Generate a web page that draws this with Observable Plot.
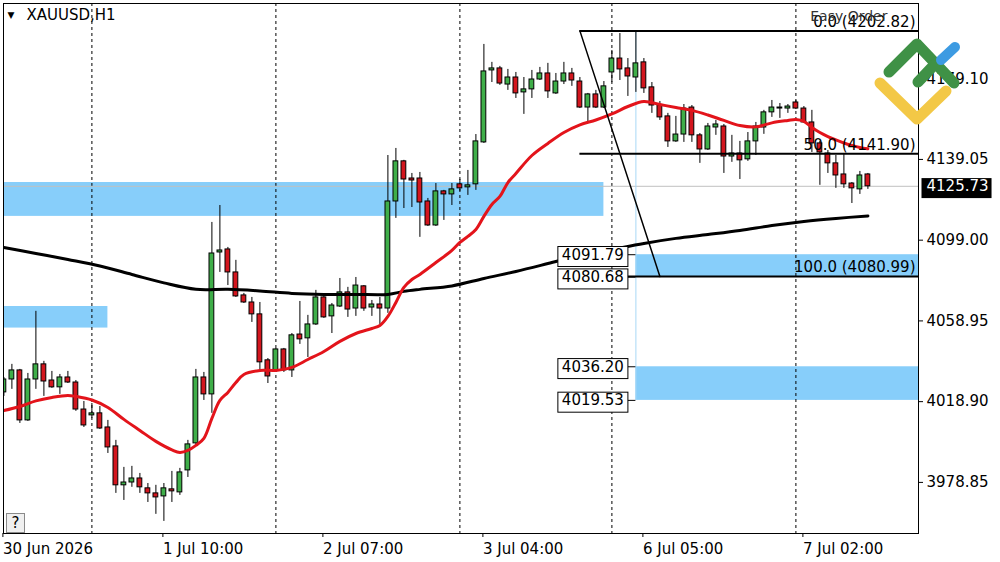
<!DOCTYPE html>
<html><head><meta charset="utf-8">
<script src="https://cdn.jsdelivr.net/npm/d3@7"></script>
<script src="https://cdn.jsdelivr.net/npm/@observablehq/plot@0.6"></script>
<style>
body{margin:0;background:#fff;}
#wrap{position:relative;width:1000px;height:562px;overflow:hidden;font-family:"DejaVu Sans",sans-serif;}
#wrap svg{display:block}
.help{position:absolute;left:6px;top:513px;width:17px;height:18px;border:1px solid #8a8a8a;background:#f0f0f0;font:15px "DejaVu Sans";text-align:center;line-height:19px;color:#000;}
.logo{position:absolute;left:0;top:0;pointer-events:none}
</style></head><body><div id="wrap"></div>
<script>
// ---- data (XAUUSD H1 candles, index 0 = 30 Jun 12:00) ----
const barOpen = [4023.5,4029.9,4034.4,4009.6,4029.9,4037.4,4029.4,4026.0,4030.9,4028.4,4015.0,4012.1,4013.1,4006.1,3996.7,3977.4,3978.8,3980.8,3975.9,3973.4,3971.9,3975.4,3973.9,3984.8,3998.2,4030.9,4022.5,4092.9,4094.4,4083.0,4071.6,4068.1,4062.2,4039.4,4034.4,4044.8,4034.4,4052.2,4050.3,4057.2,4070.6,4061.2,4066.1,4073.1,4065.1,4076.1,4065.6,4067.1,4065.1,4118.2,4138.1,4129.6,4129.6,4118.2,4106.3,4123.2,4121.7,4126.7,4125.2,4126.7,4147.5,4183.2,4184.2,4176.2,4179.7,4172.3,4173.8,4178.7,4181.7,4171.8,4177.7,4181.7,4177.7,4164.8,4171.3,4164.8,4182.2,4189.1,4184.2,4179.7,4187.2,4174.8,4165.8,4160.4,4148.0,4151.4,4164.8,4151.0,4144.0,4154.9,4155.4,4140.5,4142.0,4139.1,4148.0,4154.9,4162.4,4164.3,4164.3,4167.3,4164.3,4157.4,4147.0,4142.0,4137.1,4131.6,4127.1,4124.2,4131.6];
const barHigh = [4030.9,4037.4,4034.9,4032.9,4063.7,4038.9,4033.9,4032.4,4033.9,4029.4,4019.0,4018.0,4016.5,4009.6,3999.7,3986.3,3986.8,3983.3,3978.3,3977.4,3978.3,3984.3,3985.8,3999.7,4034.9,4033.4,4107.8,4116.2,4095.4,4089.0,4072.6,4070.6,4068.1,4040.3,4045.3,4045.3,4052.7,4068.6,4061.7,4074.1,4071.6,4067.6,4080.0,4075.6,4080.5,4076.5,4069.1,4070.6,4141.0,4144.5,4138.6,4132.1,4132.6,4119.7,4127.1,4123.7,4127.1,4129.1,4133.6,4151.4,4196.1,4187.2,4185.2,4183.7,4182.2,4179.7,4183.2,4184.7,4186.7,4181.7,4187.2,4184.2,4179.7,4171.8,4173.3,4177.7,4193.1,4201.5,4189.1,4202.8,4189.1,4177.2,4167.8,4161.9,4160.4,4166.3,4165.8,4151.9,4156.9,4158.4,4156.4,4151.0,4148.0,4152.4,4157.4,4163.4,4168.3,4166.8,4166.3,4168.3,4165.3,4163.4,4148.0,4143.5,4141.0,4142.0,4127.6,4133.1,4132.1];
const barLow = [4021.5,4025.0,4008.1,4009.1,4025.0,4021.5,4025.5,4022.5,4027.9,4014.1,4006.1,4010.6,4005.1,3993.2,3973.4,3969.9,3976.4,3973.4,3968.9,3963.0,3959.5,3968.9,3972.4,3981.3,3997.7,4019.5,4013.1,4083.0,4076.5,4070.6,4067.6,4058.2,4034.4,4027.9,4033.4,4033.4,4030.9,4047.3,4040.8,4056.7,4060.2,4052.7,4065.6,4060.7,4061.2,4063.7,4061.2,4057.2,4062.7,4109.8,4114.7,4115.2,4100.4,4105.8,4105.8,4108.8,4116.2,4123.2,4121.2,4123.7,4147.0,4177.2,4175.8,4173.3,4169.3,4161.4,4169.3,4178.2,4169.3,4171.3,4176.2,4175.3,4164.3,4157.4,4164.3,4164.3,4177.2,4178.2,4170.3,4172.3,4171.8,4161.9,4158.4,4145.0,4147.5,4147.5,4147.5,4137.1,4143.5,4151.0,4132.1,4137.6,4129.1,4138.1,4141.0,4151.5,4159.9,4159.4,4161.9,4163.8,4156.9,4142.5,4126.2,4132.1,4124.7,4124.7,4117.2,4121.7,4124.2];
const barClose = [4029.9,4034.4,4009.6,4029.9,4037.4,4028.9,4026.0,4030.9,4028.4,4015.0,4007.1,4013.1,4005.6,3996.2,3977.4,3978.8,3980.8,3976.4,3973.4,3971.4,3975.9,3974.4,3983.8,3997.7,4030.9,4022.5,4092.4,4093.9,4083.0,4071.1,4068.1,4062.2,4038.4,4031.4,4044.8,4034.4,4051.8,4049.8,4057.2,4070.6,4060.7,4066.6,4073.1,4064.6,4076.5,4065.1,4067.1,4065.1,4118.2,4138.1,4129.1,4128.6,4117.7,4106.3,4123.2,4121.7,4124.2,4124.7,4126.2,4148.0,4182.7,4184.2,4176.7,4179.7,4171.8,4173.8,4178.7,4181.7,4172.8,4177.7,4181.7,4178.2,4164.8,4171.3,4164.8,4175.3,4189.1,4183.7,4180.2,4186.7,4174.3,4165.8,4159.9,4148.0,4151.4,4164.3,4151.0,4144.0,4155.4,4156.4,4140.5,4142.0,4138.6,4148.0,4155.4,4162.4,4164.8,4164.8,4165.3,4164.3,4157.4,4147.0,4142.5,4137.1,4131.1,4126.7,4124.7,4131.1,4125.73];

// fast moving average (red) sampled at bar indices
const maFastIdx = [0,2,4,6,8,9,11,13,15,17,19,21,22,23,24,25,26,27,28,29,30,32,34,36,38,40,42,44,46,47,48,49,50,51,52,54,56,57,58,59,60,61,62,63,64,66,68,70,72,74,76,78,80,82,84,86,88,90,92,94,96,98,99,100,101,102,103,104,105,106,107,108];
const maFastVal = [4014.5,4016.5,4019.3,4021.0,4022.0,4021.5,4019.7,4016.0,4010.1,4004.6,3999.2,3995.0,3993.7,3994.7,3997.2,4000.7,4010.6,4019.5,4023.5,4028.4,4032.4,4034.4,4034.4,4035.9,4039.8,4043.8,4048.8,4052.7,4055.2,4056.7,4061.2,4068.1,4075.6,4079.5,4082.0,4087.9,4093.9,4097.9,4100.9,4104.3,4110.8,4116.7,4120.7,4127.6,4132.1,4141.0,4147.0,4152.4,4156.2,4158.6,4161.6,4165.3,4167.8,4166.3,4164.8,4163.4,4161.1,4158.4,4155.9,4155.2,4157.2,4158.4,4158.9,4157.9,4154.9,4152.4,4150.4,4148.7,4147.2,4146.0,4145.0,4144.3];
// slow moving average (black)
const maSlowIdx = [0,4,8,12,16,20,24,28,32,36,40,44,48,50,52,56,60,64,68,72,76,80,84,88,92,96,100,104,108];
const maSlowVal = [4095.4,4092.4,4089.4,4086.2,4082.0,4077.8,4074.6,4074.6,4073.8,4072.6,4072.1,4072.1,4072.1,4073.6,4074.6,4076.3,4080.0,4083.5,4087.4,4091.4,4094.4,4097.4,4099.9,4101.8,4103.8,4106.3,4108.3,4109.8,4111.0];

const daySeparators = [11,34,57,76,99];
const xTickIdx = [0,20,40,60,80,100];
const xTickLabels = ["30 Jun 2026","1 Jul 10:00","2 Jul 07:00","3 Jul 04:00","6 Jul 05:00","7 Jul 02:00"];
const yTicks = [4179.10,4139.05,4099.00,4058.95,4018.90,3978.85];
const currentPrice = 4125.73;

const zoneFrom = [null, null, 79, 79];   // null = left edge
const zoneTo   = [75, 13, null, null];   // null = right edge
const zoneLow  = [4110.8, 4055.4, 4080.68, 4019.53];
const zoneHigh = [4127.6, 4066.1, 4091.79, 4036.20];

const priceLabels = [4091.79, 4080.68, 4036.20, 4019.53];
const priceLabelBar = 79;

const fibLevelNames = ["0.0","50.0","100.0"];
const fibLevelPrices = [4202.82, 4141.90, 4080.99];
const fibStartBar = 72, fibEndBar = 82;

// ---- build tables ----
const X0 = -0.05, X1 = 114.325;
const bars = barOpen.map((o,i)=>({i, o, h:barHigh[i], l:barLow[i], c:barClose[i]}));
const ups = bars.filter(d=>d.c>=d.o), downs = bars.filter(d=>d.c<d.o);
const fast = maFastIdx.map((i,k)=>({i, v:maFastVal[k]}));
const slow = maSlowIdx.map((i,k)=>({i, v:maSlowVal[k]}));
const zones = zoneLow.map((lo,k)=>({x1: zoneFrom[k] ?? X0, x2: zoneTo[k] ?? X1, y1: lo, y2: zoneHigh[k]}));
const fib = fibLevelNames.map((n,k)=>({name:n, price:fibLevelPrices[k]}));
const fibDiag = [{i:fibStartBar, v:fibLevelPrices[0]},{i:fibEndBar, v:fibLevelPrices[2]}];

const GREEN = "#3fae49", RED = "#d3161e", ZONE = "#87cefa";
const bodyOpts = {x1: d=>d.i-0.3, x2: d=>d.i+0.3, y1: "o", y2: "c", stroke: "#000", strokeWidth: 1, clip: true};

const chart = Plot.plot({
  width: 1000, height: 562,
  marginLeft: 3, marginRight: 82, marginTop: 3, marginBottom: 29,
  x: {domain: [X0, X1]},
  y: {domain: [3953.5, 4216.4]},
  style: {fontFamily: "DejaVu Sans", fontSize: "15px", color: "#000", background: "#fff", overflow: "visible"},
  marks: [
    Plot.rect(zones, {x1:"x1", x2:"x2", y1:"y1", y2:"y2", fill: ZONE}),
    Plot.ruleX(daySeparators, {x: d=>d, stroke:"#000", strokeWidth:1, strokeDasharray:"3,3"}),
    Plot.ruleY([currentPrice], {y: d=>d, stroke:"#c0c0c0", strokeWidth:1}),
    Plot.ruleX([priceLabelBar], {x: d=>d, y1: fibLevelPrices[0], y2: priceLabels[3], stroke:"#a8d8f6", strokeWidth:1}),
    Plot.ruleX(bars, {x:"i", y1:"l", y2:"h", stroke:"#000", strokeWidth:1, clip:true}),
    Plot.rect(ups, {...bodyOpts, fill: GREEN}),
    Plot.rect(downs, {...bodyOpts, fill: RED}),
    Plot.line(slow, {x:"i", y:"v", stroke:"#000", strokeWidth:3, curve:"catmull-rom", clip:true}),
    Plot.line(fast, {x:"i", y:"v", stroke:"#e3141b", strokeWidth:3, curve:"catmull-rom", clip:true}),
    Plot.ruleY(fib, {y:"price", x1: fibStartBar, x2: X1, stroke:"#000", strokeWidth:2}),
    Plot.line(fibDiag, {x:"i", y:"v", stroke:"#000", strokeWidth:1.5}),
    Plot.text(fib, {x: X1, y:"price", text: d=>`${d.name} (${d.price.toFixed(2)})`, textAnchor:"end", lineAnchor:"bottom", dx:-3, dy:-4, fontSize:15, fill:"#000"}),
    Plot.text(["Easy Order"], {frameAnchor:"top-right", text: d=>d, textAnchor:"end", lineAnchor:"top", dx:-31, dy:8, fontSize:14, fill:"#333"}),
    Plot.ruleY(priceLabels, {y: d=>d, x1: priceLabelBar-1, x2: priceLabelBar, stroke:"#000", strokeWidth:1}),
    Plot.text(priceLabels, {x: priceLabelBar-1, y: d=>d, text: d=>d.toFixed(2), textAnchor:"end", dx:-4, fontSize:15, fill:"#000"}),
    Plot.axisY({anchor:"right", ticks: yTicks, tickFormat: d=>d.toFixed(2), tickSize:4, tickPadding:4, label:null, fontSize:15}),
    Plot.axisX({anchor:"bottom", ticks: xTickIdx, tickFormat: d=>xTickLabels[xTickIdx.indexOf(d)], tickSize:4, tickPadding:6, textAnchor:"start", dx:-1, label:null, fontSize:15}),
    Plot.frame({stroke:"#000", strokeWidth:1}),
    Plot.text([currentPrice], {x: X1, y: d=>d, text: d=>d.toFixed(2), textAnchor:"start", dx:8, fill:"#fff", fontSize:15}),
    Plot.text(["XAUUSD,H1"], {frameAnchor:"top-left", text:d=>d, textAnchor:"start", lineAnchor:"top", dx:23, dy:6, fontSize:15, fill:"#000"}),
    Plot.text(["▼"], {frameAnchor:"top-left", text:d=>d, textAnchor:"start", lineAnchor:"top", dx:4, dy:8, fontSize:9, fill:"#000"})
  ]
});

const wrap = document.getElementById("wrap");
wrap.appendChild(chart);

// boxes behind label texts
const boxed = new Set(priceLabels.map(d=>d.toFixed(2)));
const cur = currentPrice.toFixed(2);
d3.select(chart).selectAll("text").each(function(){
  const t = this.textContent;
  if (!(boxed.has(t) || t === cur)) return;
  const b = this.getBBox();
  const r = document.createElementNS("http://www.w3.org/2000/svg","rect");
  const black = t === cur;
  r.setAttribute("x", b.x - (black ? 5 : 4));
  r.setAttribute("y", b.y + 1);
  r.setAttribute("width", b.width + 8);
  r.setAttribute("height", b.height + 2);
  r.setAttribute("fill", black ? "#000" : "#fff");
  r.setAttribute("stroke", black ? "none" : "#000");
  r.setAttribute("stroke-width", 1);
  const tr = this.getAttribute("transform");
  if (tr) r.setAttribute("transform", tr);
  this.parentNode.insertBefore(r, this);
});

// decorative broker logo and help button
wrap.insertAdjacentHTML("beforeend", `
<svg class="logo" width="1000" height="562" viewBox="0 0 1000 562">
  <g fill="none" stroke-linecap="round" stroke-linejoin="round" stroke-width="11">
    <path d="M880,83 L917,119 L946,91" stroke="#f3c846"/>
    <path d="M889,72 L917,44 L954,83" stroke="#3f9146"/>
    <path d="M918,82 L936,63" stroke="#3f9146"/>
    <path d="M941,60 L955,47" stroke="#3d9be2" stroke-width="10"/>
  </g>
</svg>
<div class="help">?</div>`);
</script>
</body></html>
